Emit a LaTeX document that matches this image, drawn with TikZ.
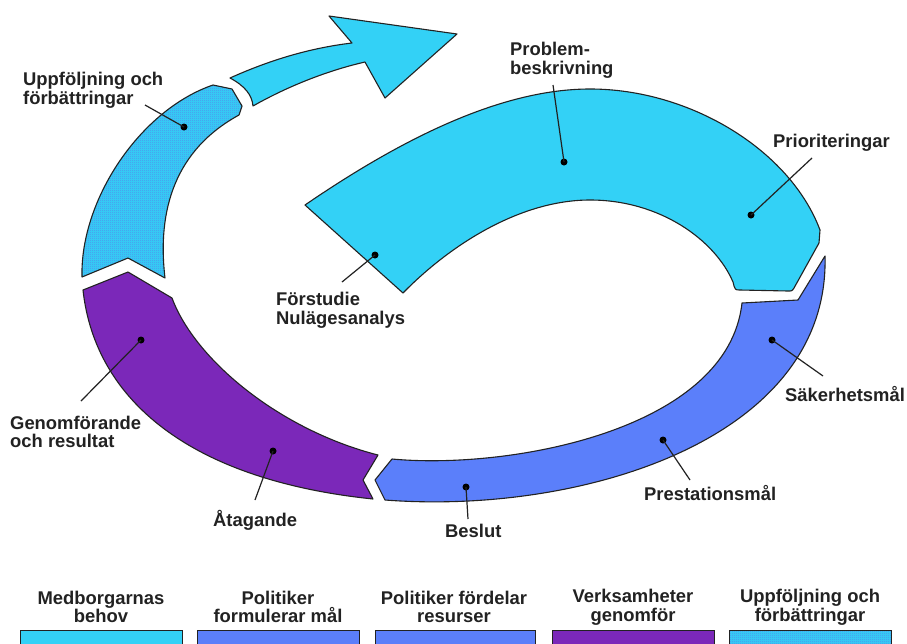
\documentclass[tikz,border=0pt]{standalone}
\usepackage{fontspec}
\setmainfont{Liberation Sans}
\usetikzlibrary{patterns}
\definecolor{cyanc}{HTML}{33D1F6}
\definecolor{bluec}{HTML}{5B7FFA}
\definecolor{purplec}{HTML}{7B28B9}
\definecolor{hatchc}{HTML}{4F8FEC}
\definecolor{inkc}{HTML}{222222}
\pgfdeclarepatternformonly{finechecker}{\pgfqpoint{0pt}{0pt}}{\pgfqpoint{2pt}{2pt}}{\pgfqpoint{2pt}{2pt}}{%
  \pgfpathrectangle{\pgfqpoint{0pt}{0pt}}{\pgfqpoint{1pt}{1pt}}%
  \pgfpathrectangle{\pgfqpoint{1pt}{1pt}}{\pgfqpoint{1pt}{1pt}}%
  \pgfusepath{fill}}
\begin{document}
\begin{tikzpicture}[x=1pt,y=-1pt,
  seg/.style={draw=inkc,line width=1.1pt,line join=round},
  hatched/.style={seg,preaction={fill=cyanc},pattern=finechecker,pattern color=hatchc},
  lbl/.style={font=\bfseries\fontsize{18.4}{18.6}\selectfont,text=inkc,inner sep=0pt,align=left},
  legtxt/.style={font=\bfseries\fontsize{18.4}{18.8}\selectfont,text=inkc,inner sep=0pt,align=center},
  dotn/.style={circle,fill=black,inner sep=0pt,minimum size=7pt},
  leader/.style={draw=inkc,line width=1.2pt},
  legbox/.style={draw=inkc,line width=1pt}]
\useasboundingbox (0,0) rectangle (907,643);
\fill[white] (0,0) rectangle (907,643);
\clip (0,0) rectangle (907,643);

% top arrow
\path[seg,fill=cyanc] (230,78) .. controls (270,60) and (310,48) .. (352,43)
  -- (329,16) -- (457,34) -- (385,98) -- (365,62)
  .. controls (330,70) and (290,85) .. (253,106)
  .. controls (252,95) and (245,86) .. (230,78) -- cycle;

% Uppfoljning segment (hatched)
\path[hatched] (213,85) -- (232,89) -- (242,106) -- (239,115)
  .. controls (175,150) and (157,210) .. (165,278)
  -- (128,258) -- (82,277)
  .. controls (80,200) and (140,110) .. (213,85)
  -- cycle;

% purple segment
\path[seg,fill=purplec] (83,290) -- (128,272) -- (172,298)
  .. controls (195,360) and (280,430) .. (378,455)
  -- (363,480) -- (373,499)
  .. controls (190,480) and (95,400) .. (83,290)
  -- cycle;

% blue segment
\path[seg,fill=bluec] (392,459) -- (375,480) -- (385,500)
  .. controls (580,515) and (830,440) .. (825,256)
  -- (798,300) -- (742,303)
  .. controls (728,430) and (510,470) .. (392,459)
  -- cycle;

% big cyan segment
\path[seg,fill=cyanc] (305,205)
  .. controls (400,140) and (500,89) .. (590,89)
  .. controls (690,89) and (790,150) .. (820,230)
  -- (819,243) -- (794,288) .. controls (792,291) .. (788,291) -- (740,290) .. controls (735,290) .. (733,282)
  .. controls (715,240) and (660,200) .. (590,200)
  .. controls (520,200) and (450,245) .. (403,293)
  -- cycle;

% labels
\node[lbl,anchor=west] (lupp) at (23,90) {Uppföljning och\\förbättringar};
\node[lbl,anchor=west] (lprob) at (510,60) {Problem-\\beskrivning};
\node[lbl,anchor=west] (lprio) at (773,143) {Prioriteringar};
\node[lbl,anchor=west] (lfor) at (276,310) {Förstudie\\Nulägesanalys};
\node[lbl,anchor=west] (lsak) at (785,394) {Säkerhetsmål};
\node[lbl,anchor=west] (lpre) at (644,493) {Prestationsmål};
\node[lbl,anchor=west] (lbes) at (445,531) {Beslut};
\node[lbl,anchor=west] (lata) at (213,520) {Åtagande};
\node[lbl,anchor=west] (lgen) at (10,432) {Genomförande\\och resultat};

% dots
\node[dotn] (dupp) at (184,127) {};
\node[dotn] (dprob) at (564,162) {};
\node[dotn] (dprio) at (751,215) {};
\node[dotn] (dfor) at (375,255) {};
\node[dotn] (dsak) at (772,340) {};
\node[dotn] (dpre) at (663,440) {};
\node[dotn] (dbes) at (466,487) {};
\node[dotn] (data) at (273,451) {};
\node[dotn] (dgen) at (141,340) {};

% leader ends
\coordinate (eupp) at (145,105);
\coordinate (eprob) at (553,85);
\coordinate (eprio) at (812,158);
\coordinate (efor) at (342,282);
\coordinate (esak) at (823,376);
\coordinate (epre) at (690,480);
\coordinate (ebes) at (468,519);
\coordinate (eata) at (255,500);
\coordinate (egen) at (81,401);

\draw[leader] (eupp) -- (dupp.center);
\draw[leader] (eprob) -- (dprob.center);
\draw[leader] (eprio) -- (dprio.center);
\draw[leader] (efor) -- (dfor.center);
\draw[leader] (esak) -- (dsak.center);
\draw[leader] (epre) -- (dpre.center);
\draw[leader] (ebes) -- (dbes.center);
\draw[leader] (eata) -- (data.center);
\draw[leader] (egen) -- (dgen.center);

% legend
\path[legbox,fill=cyanc] (20,630) rectangle (182,660);
\path[legbox,fill=bluec] (197,630) rectangle (359,660);
\path[legbox,fill=bluec] (375,630) rectangle (535,660);
\path[legbox,fill=purplec] (552,630) rectangle (714,660);
\path[legbox,preaction={fill=cyanc},pattern=finechecker,pattern color=hatchc] (729,630) rectangle (891,660);

\node[legtxt] (t1) at (101,607) {Medborgarnas\\behov};
\node[legtxt] (t2) at (278,607) {Politiker\\formulerar mål};
\node[legtxt] (t3) at (454,607) {Politiker fördelar\\resurser};
\node[legtxt] (t4) at (633,607) {Verksamheter\\genomför};
\node[legtxt] (t5) at (810,607) {Uppföljning och\\förbättringar};
\end{tikzpicture}
\end{document}
